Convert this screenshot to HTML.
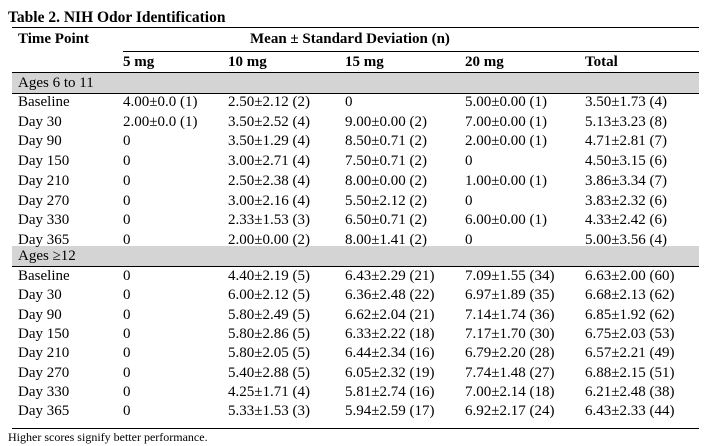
<!DOCTYPE html>
<html><head><meta charset="utf-8"><style>
body{margin:0;width:717px;height:445px;background:#fff;position:relative;font-family:"Liberation Serif",serif;color:#000;overflow:hidden}
.a{position:absolute;white-space:nowrap;font-size:15px;line-height:18px}
.b{font-weight:bold}
.l{position:absolute;height:1px;background:#000}
.g{position:absolute;background:#d4d4d4;left:12px;width:687px}
</style></head><body>
<div class="a b" style="left:8px;top:9px;font-size:15.5px">Table 2. NIH Odor Identification</div>
<div class="l" style="left:12px;width:687px;top:27px"></div>
<div class="a b" style="left:18px;top:30px">Time Point</div>
<div class="a b" style="left:250px;top:30px">Mean ± Standard Deviation (n)</div>
<div class="l" style="left:123px;width:576px;top:51px"></div>
<div class="a b" style="left:123px;top:53px">5 mg</div>
<div class="a b" style="left:228px;top:53px">10 mg</div>
<div class="a b" style="left:345px;top:53px">15 mg</div>
<div class="a b" style="left:465px;top:53px">20 mg</div>
<div class="a b" style="left:585px;top:53px">Total</div>
<div class="l" style="left:12px;width:687px;top:72px"></div>
<div class="g" style="top:73px;height:20px"></div>
<div class="l" style="left:12px;width:687px;top:93px"></div>
<div class="a" style="left:18px;top:74px">Ages 6 to 11</div>
<div class="g" style="top:246px;height:20px"></div>
<div class="l" style="left:12px;width:687px;top:266px"></div>
<div class="a" style="left:18px;top:247px">Ages ≥12</div>
<div class="l" style="left:12px;width:687px;top:428px"></div>
<div class="a" style="left:8px;top:428px;font-size:12px">Higher scores signify better performance.</div>
<div id="t"></div>
<script>
var g1=[["Baseline","4.00±0.0 (1)","2.50±2.12 (2)","0","5.00±0.00 (1)","3.50±1.73 (4)"],
["Day 30","2.00±0.0 (1)","3.50±2.52 (4)","9.00±0.00 (2)","7.00±0.00 (1)","5.13±3.23 (8)"],
["Day 90","0","3.50±1.29 (4)","8.50±0.71 (2)","2.00±0.00 (1)","4.71±2.81 (7)"],
["Day 150","0","3.00±2.71 (4)","7.50±0.71 (2)","0","4.50±3.15 (6)"],
["Day 210","0","2.50±2.38 (4)","8.00±0.00 (2)","1.00±0.00 (1)","3.86±3.34 (7)"],
["Day 270","0","3.00±2.16 (4)","5.50±2.12 (2)","0","3.83±2.32 (6)"],
["Day 330","0","2.33±1.53 (3)","6.50±0.71 (2)","6.00±0.00 (1)","4.33±2.42 (6)"],
["Day 365","0","2.00±0.00 (2)","8.00±1.41 (2)","0","5.00±3.56 (4)"]];
var g2=[["Baseline","0","4.40±2.19 (5)","6.43±2.29 (21)","7.09±1.55 (34)","6.63±2.00 (60)"],
["Day 30","0","6.00±2.12 (5)","6.36±2.48 (22)","6.97±1.89 (35)","6.68±2.13 (62)"],
["Day 90","0","5.80±2.49 (5)","6.62±2.04 (21)","7.14±1.74 (36)","6.85±1.92 (62)"],
["Day 150","0","5.80±2.86 (5)","6.33±2.22 (18)","7.17±1.70 (30)","6.75±2.03 (53)"],
["Day 210","0","5.80±2.05 (5)","6.44±2.34 (16)","6.79±2.20 (28)","6.57±2.21 (49)"],
["Day 270","0","5.40±2.88 (5)","6.05±2.32 (19)","7.74±1.48 (27)","6.88±2.15 (51)"],
["Day 330","0","4.25±1.71 (4)","5.81±2.74 (16)","7.00±2.14 (18)","6.21±2.48 (38)"],
["Day 365","0","5.33±1.53 (3)","5.94±2.59 (17)","6.92±2.17 (24)","6.43±2.33 (44)"]];
var xs=[18,123,228,345,465,585],h="";
function put(g,y0,st){g.forEach(function(r,i){r.forEach(function(c,j){h+='<div class="a" style="left:'+xs[j]+'px;top:'+(y0+i*st-9).toFixed(1)+'px">'+c+'</div>';});});}
put(g1,102,19.7);put(g2,276,19.3);
document.getElementById("t").innerHTML=h;
</script>
</body></html>
